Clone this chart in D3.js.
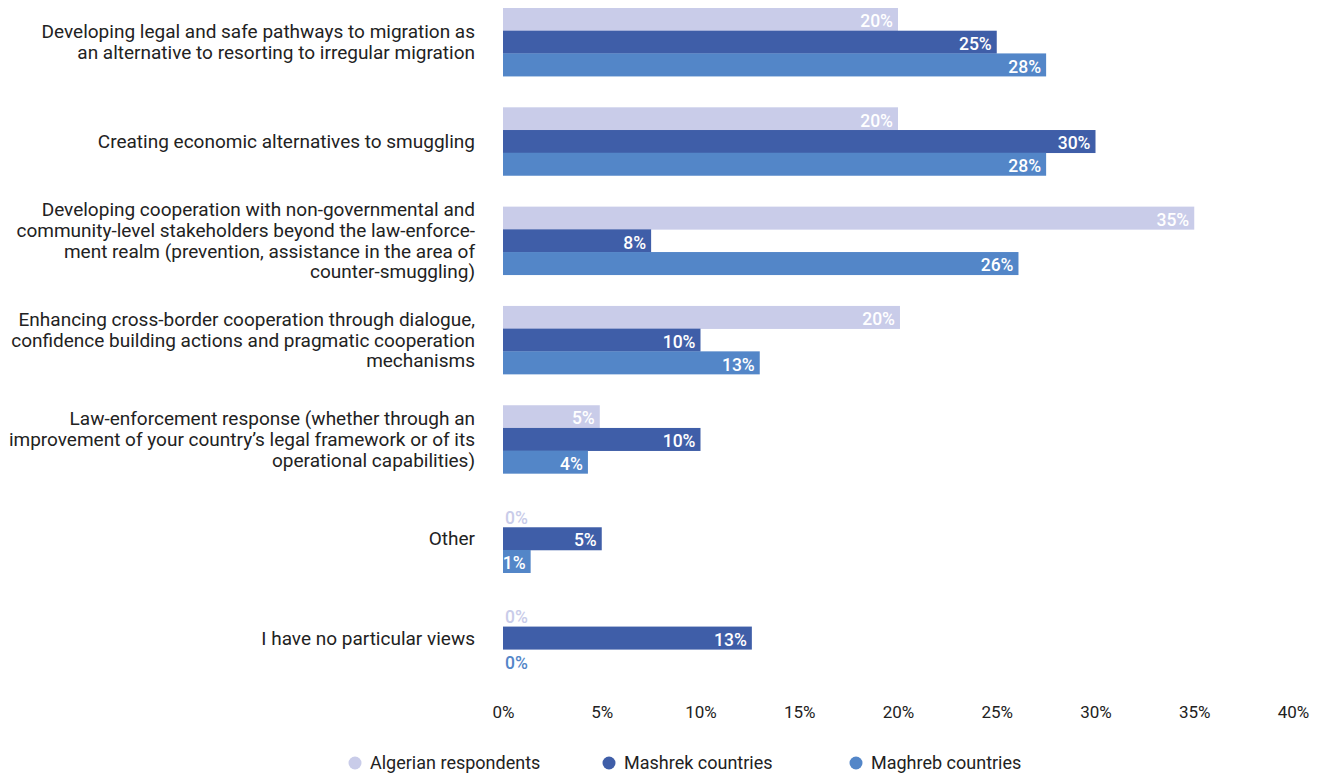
<!DOCTYPE html>
<html>
<head>
<meta charset="utf-8">
<script src="https://cdn.jsdelivr.net/npm/d3@7"></script>
<style>
  body { margin: 0; background: #fff; }
  svg text { font-family: Roboto, "Noto Sans", sans-serif; }
</style>
</head>
<body>
<svg id="svg" width="1321" height="775"></svg>
<script>
const categories = [
  ['Developing legal and safe pathways to migration as', 'an alternative to resorting to irregular migration'],
  ['Creating economic alternatives to smuggling'],
  ['Developing cooperation with non-governmental and', 'community-level stakeholders beyond the law-enforce-', 'ment realm (prevention, assistance in the area of', 'counter-smuggling)'],
  ['Enhancing cross-border cooperation through dialogue,', 'confidence building actions and pragmatic cooperation', 'mechanisms'],
  ['Law-enforcement response (whether through an', 'improvement of your country\u2019s legal framework or of its', 'operational capabilities)'],
  ['Other'],
  ['I have no particular views']
]

const seriesNames = ['Algerian respondents', 'Mashrek countries', 'Maghreb countries']
const seriesColours = ['#c9cce9', '#3f5ea8', '#5386c8']

const algerian = [20, 20, 35, 20.1, 4.9, 0, 0]
const mashrek = [25, 30, 7.5, 10, 10, 5, 12.6]
const maghreb = [27.5, 27.5, 26.1, 13, 4.3, 1.4, 0]

const tickValues = [0, 5, 10, 15, 20, 25, 30, 35, 40]

const handleData = () => {
  const svg = d3.select('#svg')
  const series = [algerian, mashrek, maghreb]

  const x = d3.scaleLinear()
    .domain([0, 40])
    .range([503, 1293])

  const y = d3.scaleBand()
    .domain(d3.range(categories.length))
    .range([8, 672])
    .paddingInner(0.314)
    .paddingOuter(0)

  const ySub = d3.scaleBand()
    .domain(d3.range(series.length))
    .range([0, y.bandwidth()])

  const rows = []
  categories.forEach((c, i) => {
    series.forEach((s, j) => rows.push({ cat: i, ser: j, value: s[i] }))
  })

  const bars = svg.append('g')

  bars.selectAll('rect')
    .data(rows.filter(d => d.value > 0))
    .join('rect')
    .attr('x', x(0))
    .attr('y', d => y(d.cat) + ySub(d.ser))
    .attr('width', d => x(d.value) - x(0))
    .attr('height', ySub.bandwidth() + 0.3)
    .attr('fill', d => seriesColours[d.ser])

  bars.selectAll('text')
    .data(rows)
    .join('text')
    .attr('x', d => d.value > 0 ? x(d.value) - 5 : x(0) + 2)
    .attr('y', d => y(d.cat) + ySub(d.ser) + ySub.bandwidth() / 2)
    .attr('dy', '0.45em')
    .attr('text-anchor', d => d.value > 0 ? 'end' : 'start')
    .attr('fill', d => d.value > 0 ? '#fff' : seriesColours[d.ser])
    .style('font-size', '17.5px')
    .style('font-weight', 500)
    .text(d => Math.round(d.value) + '%')

  // category labels
  const lineHeight = 20.7
  const labels = svg.append('g')
    .selectAll('text')
    .data(categories)
    .join('text')
    .attr('text-anchor', 'end')
    .attr('fill', '#222')
    .style('font-size', '19px')
    .attr('transform', (d, i) => `translate(475, ${y(i) + y.bandwidth() / 2})`)

  labels.selectAll('tspan')
    .data(d => d.map((line, k) => ({ line, k, n: d.length })))
    .join('tspan')
    .attr('x', 0)
    .attr('y', d => (d.k - (d.n - 1) / 2) * lineHeight)
    .attr('dy', '0.35em')
    .text(d => d.line)

  // x axis
  const axis = svg.append('g')
    .attr('transform', 'translate(0, 700)')
    .call(d3.axisBottom(x).tickValues(tickValues).tickFormat(d => d + '%').tickSize(0).tickPadding(6))

  axis.select('.domain').remove()
  axis.selectAll('text')
    .style('font-family', 'Roboto, sans-serif')
    .style('font-size', '17px')
    .attr('fill', '#222')

  // legend
  const legendX = [355, 609, 856]
  const legend = svg.append('g')
    .selectAll('g')
    .data(seriesNames)
    .join('g')
    .attr('transform', (d, i) => `translate(${legendX[i]}, 763)`)

  legend.append('circle')
    .attr('r', 6.5)
    .attr('fill', (d, i) => seriesColours[i])

  legend.append('text')
    .attr('x', 15)
    .attr('dy', '0.35em')
    .attr('fill', '#222')
    .style('font-size', '18px')
    .text(d => d)
}

handleData()
</script>
</body>
</html>
